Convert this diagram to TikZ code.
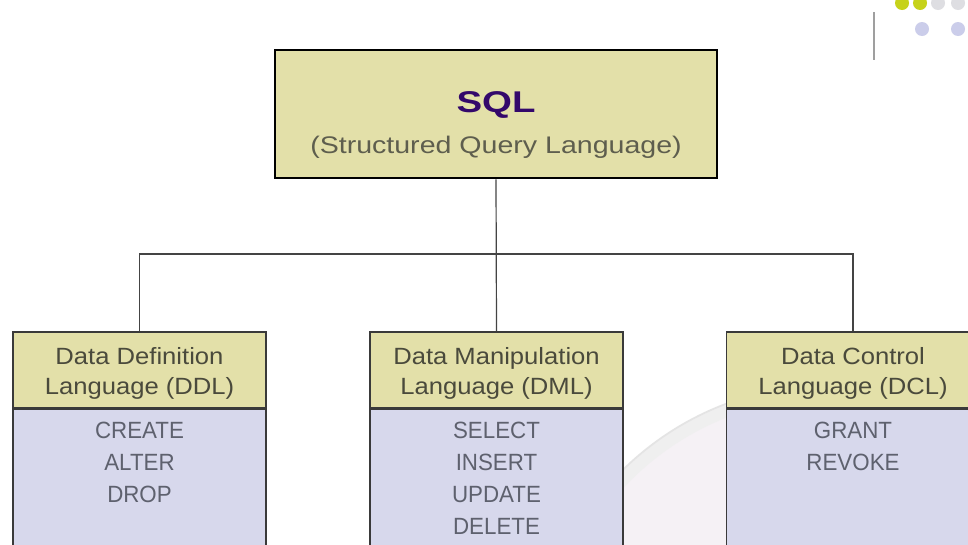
\documentclass[tikz,border=0pt]{standalone}
\usepackage{fontspec}
\setmainfont{Liberation Sans}
\newfontfamily\titlefont[FakeStretch=1.28]{Liberation Sans}
\newfontfamily\subfont[FakeStretch=1.19]{Liberation Sans}
\newfontfamily\headfont[FakeStretch=1.09]{Liberation Sans}
\newfontfamily\itemfont[FakeStretch=0.95]{Liberation Sans}

\definecolor{boxyellow}{HTML}{E3E0A9}
\definecolor{boxlav}{HTML}{D7D8EC}
\definecolor{edgegrey}{HTML}{3A3A3A}
\definecolor{linegrey}{HTML}{444444}
\definecolor{titleink}{HTML}{33086B}
\definecolor{subink}{HTML}{5E5E4E}
\definecolor{headink}{HTML}{4A4A3C}
\definecolor{itemink}{HTML}{5E616E}
\definecolor{discfill}{HTML}{F5F1F5}
\definecolor{discband}{HTML}{EFEFEF}
\definecolor{discedge}{HTML}{E4E4E4}
\definecolor{dotgreen}{HTML}{C6D21A}
\definecolor{dotgrey}{HTML}{DEDEE2}
\definecolor{dotlav}{HTML}{CBCDEA}

\begin{document}
\begin{tikzpicture}[x=1pt,y=-1pt,
  sqlbox/.style={draw=black, line width=2.6pt, fill=boxyellow,
    minimum width=442pt, minimum height=128pt, inner sep=0pt},
  headbox/.style={draw=edgegrey, line width=1.6pt, fill=boxyellow,
    minimum width=253pt, minimum height=76pt, inner sep=0pt},
  bodybox/.style={draw=edgegrey, line width=1.6pt, fill=boxlav,
    minimum width=253pt, minimum height=160pt, inner sep=0pt, anchor=north},
  conn/.style={draw=linegrey, line width=1.2pt},
  titletext/.style={anchor=base, inner sep=0pt, text=titleink,
    font=\titlefont\bfseries\fontsize{30}{32}\selectfont},
  subtext/.style={anchor=base, inner sep=0pt, text=subink,
    font=\subfont\fontsize{24}{26}\selectfont},
  headtext/.style={anchor=base, inner sep=0pt, text=headink,
    font=\headfont\fontsize{23.5}{26}\selectfont},
  itemtext/.style={anchor=base, inner sep=0pt, text=itemink,
    font=\itemfont\fontsize{23.5}{26}\selectfont},
  dot/.style={circle, inner sep=0pt, minimum size=14pt}
]
\useasboundingbox (0,0) rectangle (968,544);
\clip (0,0) rectangle (968,544);
\fill[white] (0,0) rectangle (968,544);

% soft background disc behind the lower boxes
\fill[discfill] (830,680) circle (295);
\draw[discband, line width=12pt] (830,680) circle (288);
\draw[discedge, line width=1.8pt] (830,680) circle (295);

% corner ornament
\draw[gray!75, line width=1.6pt] (874,12) -- (874,60);
\node[dot, fill=dotgreen] (g1) at (902,3) {};
\node[dot, fill=dotgreen] (g2) at (920,3) {};
\node[dot, fill=dotgrey]  (g3) at (938,3) {};
\node[dot, fill=dotgrey]  (g4) at (958,3) {};
\node[dot, fill=dotlav]   (l1) at (922,29) {};
\node[dot, fill=dotlav]   (l2) at (958,29) {};

% root box
\node[sqlbox] (sql) at (496,114) {};
\node[titletext] (sqlname) at (496,112) {SQL};
\node[subtext] (sqlfull) at (496,153) {(Structured Query Language)};

% three language groups
\node[headbox] (ddlh) at (139.5,370) {};
\node[headbox] (dmlh) at (496.5,370) {};
\node[headbox] (dclh) at (853,370) {};
\node[bodybox] (ddlb) at (ddlh.south) {};
\node[bodybox] (dmlb) at (dmlh.south) {};
\node[bodybox] (dclb) at (dclh.south) {};

% connectors
\coordinate (bus) at (496,254);
\draw[conn] (sql.south) -- (dmlh.north);
\draw[conn] (ddlh.north) |- (bus) -| (dclh.north);

% header captions
\node[headtext] (ddlt1) at (139.5,364) {Data Definition};
\node[headtext] (ddlt2) at (139.5,394) {Language (DDL)};
\node[headtext] (dmlt1) at (496.5,364) {Data Manipulation};
\node[headtext] (dmlt2) at (496.5,394) {Language (DML)};
\node[headtext] (dclt1) at (853,364) {Data Control};
\node[headtext] (dclt2) at (853,394) {Language (DCL)};

% statements of each group
\foreach \w [count=\i] in {CREATE,ALTER,DROP}
  \node[itemtext] (ddli\i) at (139.5,{438+32*(\i-1)}) {\w};
\foreach \w [count=\i] in {SELECT,INSERT,UPDATE,DELETE}
  \node[itemtext] (dmli\i) at (496.5,{438+32*(\i-1)}) {\w};
\foreach \w [count=\i] in {GRANT,REVOKE}
  \node[itemtext] (dcli\i) at (853,{438+32*(\i-1)}) {\w};
\end{tikzpicture}
\end{document}
